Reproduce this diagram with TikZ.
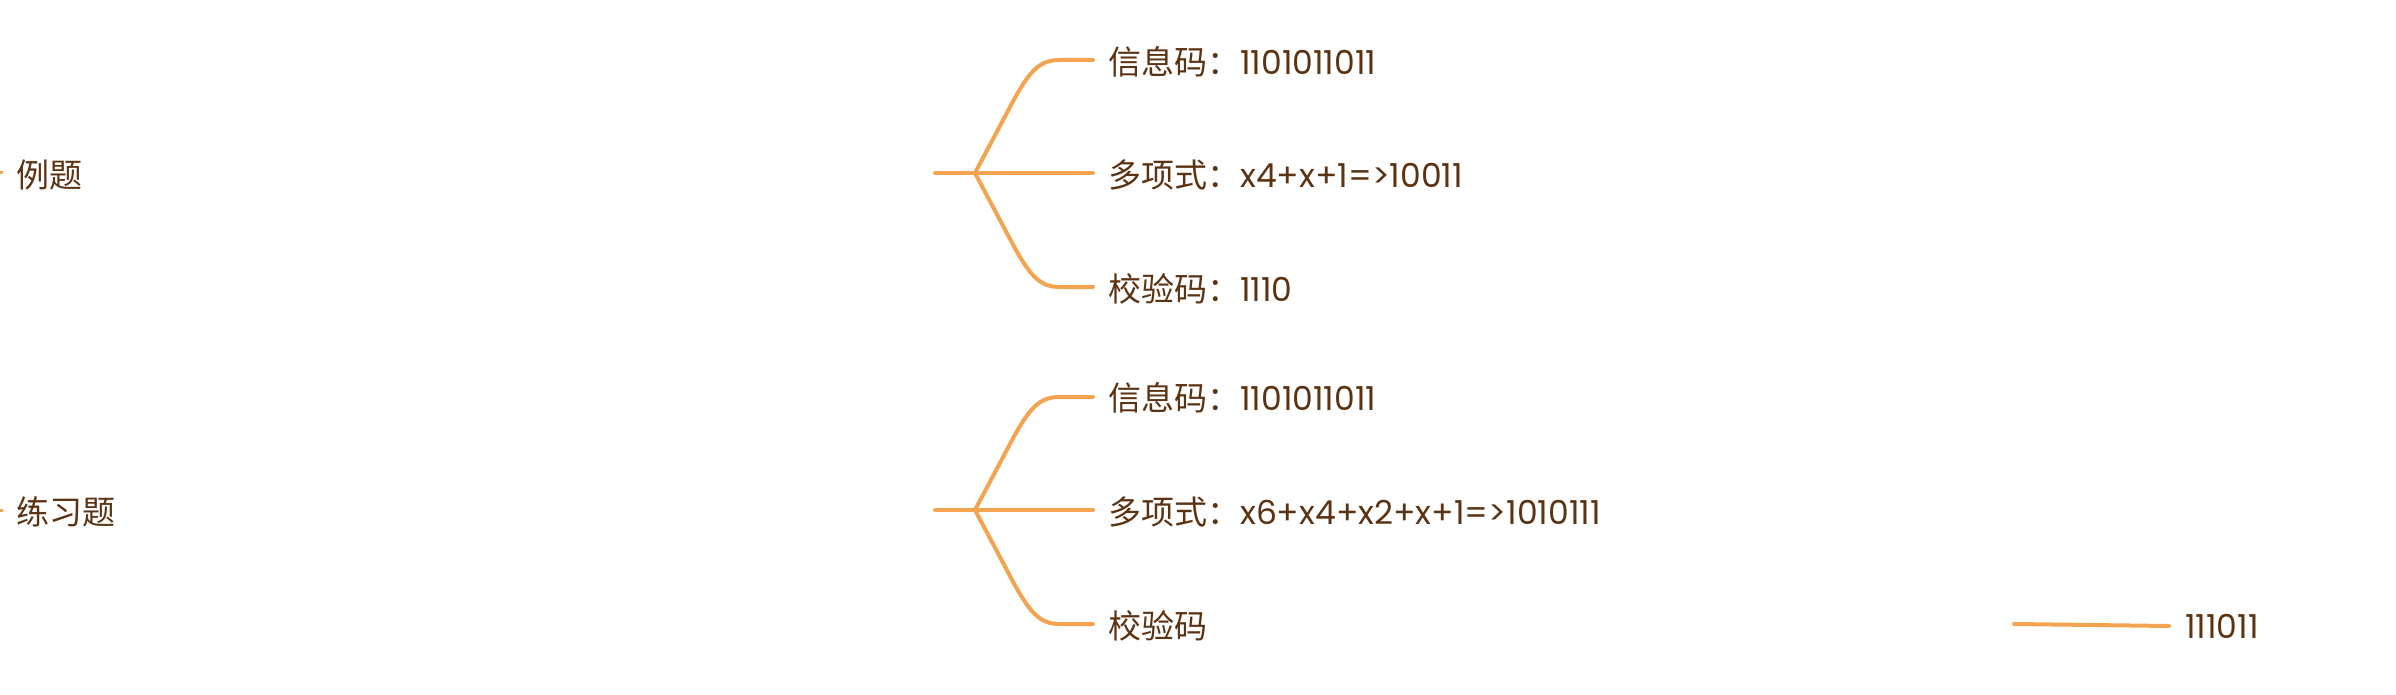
\documentclass[tikz,border=0pt]{standalone}
\usepackage{fontspec}
\setmainfont{Poppins}
\newfontfamily\cjk{Noto Sans CJK SC}
\definecolor{br}{HTML}{5C3312}
\definecolor{og}{HTML}{F4A350}
\tikzset{ln/.style={draw=og,line width=4pt,line cap=round},
 lb/.style={anchor=west,text=br,font=\fontsize{33}{36}\selectfont,inner sep=0pt}}
\begin{document}
\begin{tikzpicture}[x=1pt,y=-1pt]
\useasboundingbox (0,0) rectangle (2396,695);
\foreach \c/\n in {173/a,510/b}{
 \coordinate (\n0) at (935,\c);
 \coordinate (\n f) at (975,\c);
 \coordinate (\n t) at (1093,\c-113);
 \coordinate (\n m) at (1093,\c);
 \coordinate (\n b) at (1093,\c+114);
 \draw[ln] (\n0) -- (\n f) -- (\n m);
 \draw[ln] (\n f) -- ++(35,-66) .. controls +(20,-38) and (1040,\c-113) .. (1060,\c-113) -- (\n t);
 \draw[ln] (\n f) -- ++(35,66) .. controls +(20,38) and (1040,\c+114) .. (1060,\c+114) -- (\n b);
 \coordinate (\n l) at (0,\c);
 \draw[og,line width=3pt] (\n l) -- ++(3,0);
}
\node[lb] (A) at (16,175) {\cjk 例题};
\node[lb] (B) at (16,512) {\cjk 练习题};
\node[lb] (a1) at (1108,62) {{\cjk 信息码：}1101011011};
\node[lb] (a2) at (1108,175) {{\cjk 多项式：}x4+x+1=>10011};
\node[lb] (a3) at (1108,289) {{\cjk 校验码：}1110};
\node[lb] (b1) at (1108,398) {{\cjk 信息码：}1101011011};
\node[lb] (b2) at (1108,512) {{\cjk 多项式：}x6+x4+x2+x+1=>1010111};
\node[lb] (b3) at (1108,626) {\cjk 校验码};
\coordinate (e1) at (2014,624);
\node[lb] (r) at (2185,626) {111011};
\draw[ln] (e1) -- (r.west -| 2169,0) ;
\end{tikzpicture}
\end{document}
